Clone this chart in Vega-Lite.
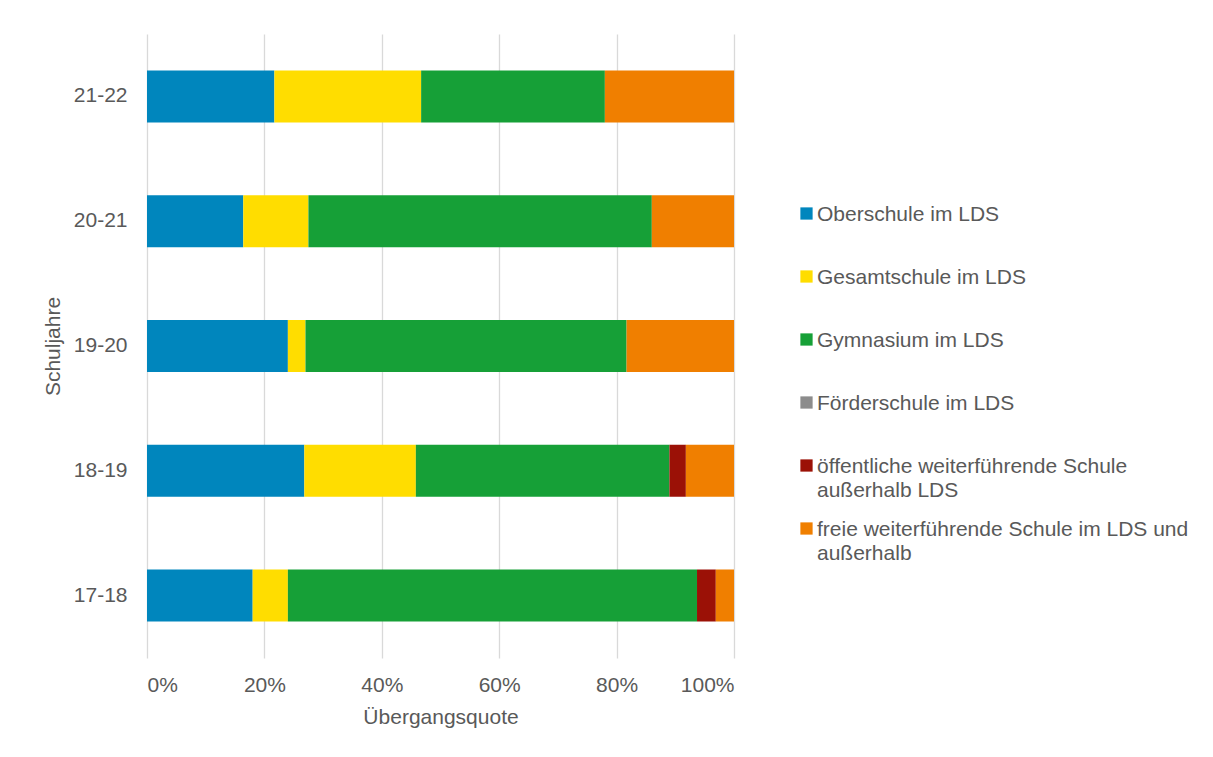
{
  "$schema": "https://vega.github.io/schema/vega-lite/v6.json",
  "autosize": {"type": "none"},
  "width": 587,
  "height": 624,
  "padding": {"left": 147, "top": 34, "right": 479, "bottom": 99},
  "background": "white",
  "config": {
    "font": "Liberation Sans",
    "view": {"stroke": null},
    "axis": {
      "labelFont": "Liberation Sans",
      "titleFont": "Liberation Sans",
      "labelFontSize": 21,
      "titleFontSize": 21,
      "labelColor": "#595959",
      "titleColor": "#595959",
      "titleFontWeight": "normal",
      "ticks": false,
      "domain": false,
      "gridColor": "#d9d9d9",
      "gridWidth": 1.3
    },
    "legend": {
      "labelFont": "Liberation Sans",
      "labelFontSize": 21,
      "labelColor": "#595959",
      "labelLimit": 0,
      "symbolType": "square",
      "symbolSize": 150,
      "symbolStrokeWidth": 0,
      "labelOffset": 0,
      "padding": 0,
      "gridAlign": "all",
      "rowPadding": 17
    }
  },
  "data": {
    "values": [
      {"jahr": "21-22", "schulart": "Oberschule im LDS", "anteil": 21.7},
      {"jahr": "21-22", "schulart": "Gesamtschule im LDS", "anteil": 25.0},
      {"jahr": "21-22", "schulart": "Gymnasium im LDS", "anteil": 31.3},
      {"jahr": "21-22", "schulart": "freie weiterführende Schule im LDS und außerhalb", "anteil": 22.0},
      {"jahr": "20-21", "schulart": "Oberschule im LDS", "anteil": 16.4},
      {"jahr": "20-21", "schulart": "Gesamtschule im LDS", "anteil": 11.1},
      {"jahr": "20-21", "schulart": "Gymnasium im LDS", "anteil": 58.5},
      {"jahr": "20-21", "schulart": "freie weiterführende Schule im LDS und außerhalb", "anteil": 14.0},
      {"jahr": "19-20", "schulart": "Oberschule im LDS", "anteil": 24.0},
      {"jahr": "19-20", "schulart": "Gesamtschule im LDS", "anteil": 3.0},
      {"jahr": "19-20", "schulart": "Gymnasium im LDS", "anteil": 54.7},
      {"jahr": "19-20", "schulart": "freie weiterführende Schule im LDS und außerhalb", "anteil": 18.3},
      {"jahr": "18-19", "schulart": "Oberschule im LDS", "anteil": 26.8},
      {"jahr": "18-19", "schulart": "Gesamtschule im LDS", "anteil": 19.0},
      {"jahr": "18-19", "schulart": "Gymnasium im LDS", "anteil": 43.2},
      {"jahr": "18-19", "schulart": "öffentliche weiterführende Schule außerhalb LDS", "anteil": 2.8},
      {"jahr": "18-19", "schulart": "freie weiterführende Schule im LDS und außerhalb", "anteil": 8.2},
      {"jahr": "17-18", "schulart": "Oberschule im LDS", "anteil": 18.0},
      {"jahr": "17-18", "schulart": "Gesamtschule im LDS", "anteil": 6.0},
      {"jahr": "17-18", "schulart": "Gymnasium im LDS", "anteil": 69.7},
      {"jahr": "17-18", "schulart": "öffentliche weiterführende Schule außerhalb LDS", "anteil": 3.2},
      {"jahr": "17-18", "schulart": "freie weiterführende Schule im LDS und außerhalb", "anteil": 3.1}
    ]
  },
  "transform": [
    {
      "calculate": "indexof(['Oberschule im LDS', 'Gesamtschule im LDS', 'Gymnasium im LDS', 'Förderschule im LDS', 'öffentliche weiterführende Schule außerhalb LDS', 'freie weiterführende Schule im LDS und außerhalb'], datum.schulart)",
      "as": "reihenfolge"
    }
  ],
  "mark": {"type": "bar"},
  "encoding": {
    "y": {
      "field": "jahr",
      "type": "nominal",
      "sort": "descending",
      "scale": {"paddingInner": 0.583, "paddingOuter": 0.2915},
      "axis": {"title": "Schuljahre", "labelPadding": 20, "titlePadding": 10, "grid": false}
    },
    "x": {
      "field": "anteil",
      "type": "quantitative",
      "stack": "zero",
      "scale": {"domain": [0, 100], "nice": false},
      "axis": {
        "title": "Übergangsquote",
        "values": [0, 20, 40, 60, 80, 100],
        "labelExpr": "datum.value + '%'",
        "labelPadding": 16,
        "titlePadding": 11,
        "grid": true
      }
    },
    "color": {
      "field": "schulart",
      "type": "nominal",
      "sort": [
        "Oberschule im LDS",
        "Gesamtschule im LDS",
        "Gymnasium im LDS",
        "Förderschule im LDS",
        "öffentliche weiterführende Schule außerhalb LDS",
        "freie weiterführende Schule im LDS und außerhalb"
      ],
      "scale": {
        "domain": [
          "Oberschule im LDS",
          "Gesamtschule im LDS",
          "Gymnasium im LDS",
          "Förderschule im LDS",
          "öffentliche weiterführende Schule außerhalb LDS",
          "freie weiterführende Schule im LDS und außerhalb"
        ],
        "range": ["#0086bd", "#ffdd00", "#16a037", "#8c8c8c", "#9b1106", "#f07f00"]
      },
      "legend": {
        "title": null,
        "orient": "none",
        "legendX": 649,
        "legendY": 169,
        "labelBaseline": "alphabetic",
        "labelExpr": "datum.label == 'öffentliche weiterführende Schule außerhalb LDS' ? ['öffentliche weiterführende Schule', 'außerhalb LDS'] : datum.label == 'freie weiterführende Schule im LDS und außerhalb' ? ['freie weiterführende Schule im LDS und', 'außerhalb'] : datum.label",
        "encode": {
          "labels": {"update": {"dy": {"value": 7}, "lineHeight": {"value": 24}}}
        }
      }
    },
    "order": {"field": "reihenfolge", "type": "quantitative", "sort": "ascending"}
  }
}
